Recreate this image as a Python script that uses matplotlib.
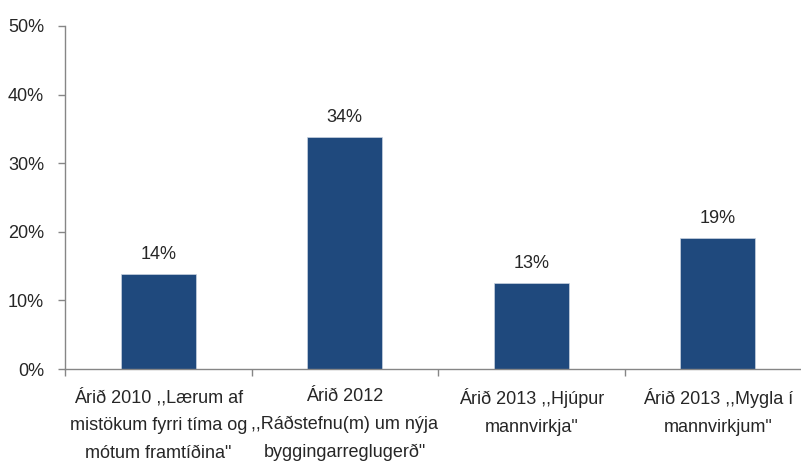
import matplotlib
matplotlib.use('Agg')
import matplotlib.pyplot as plt
from matplotlib import font_manager
import numpy as np

categories = ['Árið 2010 ,,Lærum af\nmistökum fyrri tíma og\nmótum framtíðina"',
              'Árið 2012\n,,Ráðstefnu(m) um nýja\nbyggingarreglugerð"',
              'Árið 2013 ,,Hjúpur\nmannvirkja"',
              'Árið 2013 ,,Mygla í\nmannvirkjum"']
values = [13.8, 33.8, 12.5, 19.1]
bar_labels = ['14%', '34%', '13%', '19%']
yticks = [0, 10, 20, 30, 40, 50]

names = {f.name for f in font_manager.fontManager.ttflist}
family = 'Liberation Sans Narrow' if 'Liberation Sans Narrow' in names else 'Liberation Sans'
plt.rcParams['font.family'] = [family, 'DejaVu Sans']
text_color = '#262626'
axis_color = '#868686'
bar_color = '#1F497D'

fig = plt.figure(figsize=(8.01, 4.61), dpi=100)
ax = fig.add_axes([65/801, 1-369/461, 746/801, 343/461])

x = np.arange(len(categories))
ax.bar(x, values, width=0.4, color=bar_color, edgecolor='#c9d3e0', linewidth=0.5)
for xi, v, lab in zip(x, values, bar_labels):
    ax.annotate(lab, (xi, v), xytext=(0, 14), textcoords='offset points',
                ha='center', va='center', fontsize=13, color=text_color)

ax.set_xlim(-0.5, 3.5)
ax.set_ylim(0, 50)
ax.set_yticks(yticks)
ax.set_yticklabels(['{}%'.format(t) for t in yticks])

# boundaries get ticks, labels sit in the middle
ax.set_xticks(np.arange(-0.5, 4, 1))
ax.set_xticklabels([])
ax.set_xticks(x, minor=True)
ax.set_xticklabels(categories, minor=True, linespacing=1.8)
ax.tick_params(axis='x', which='minor', length=0, pad=14, labelsize=13, labelcolor=text_color)
ax.tick_params(axis='x', which='major', length=5, width=1, color=axis_color, direction='out')
ax.tick_params(axis='y', length=5, width=1, color=axis_color, pad=10, labelsize=13, labelcolor=text_color)

for s in ['top', 'right']:
    ax.spines[s].set_visible(False)
for s in ['left', 'bottom']:
    ax.spines[s].set_color(axis_color)
    ax.spines[s].set_linewidth(1)

fig.savefig('out.png', dpi=100)
